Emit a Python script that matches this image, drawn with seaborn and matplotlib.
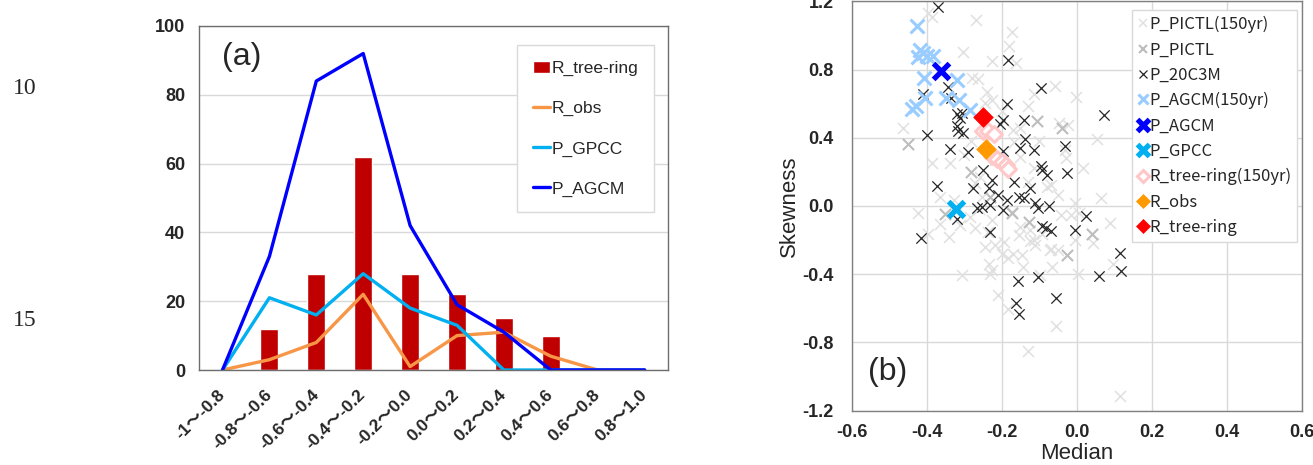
import matplotlib.pyplot as plt
import numpy as np
import pandas as pd
import seaborn as sns
from matplotlib.patches import Patch
from matplotlib.lines import Line2D
from matplotlib.ticker import FormatStrFormatter

# ---- panel (a): frequency of the median in each bin ----
BINS = ["-1～-0.8", "-0.8～-0.6", "-0.6～-0.4", "-0.4～-0.2", "-0.2～0.0",
        "0.0～0.2", "0.2～0.4", "0.4～0.6", "0.6～0.8", "0.8～1.0"]
R_TREE_RING = [0, 12, 28, 62, 28, 22, 15, 10, 0, 0]
R_OBS = [0, 3, 8, 22, 1, 10, 11, 4, 0, 0]
P_GPCC = [0, 21, 16, 28, 18, 13, 0, 0, 0, 0]
P_AGCM = [0, 33, 84, 92, 42, 19, 11, 0, 0, 0]

# ---- panel (b): median vs skewness ----
PICTL150_X = [-0.397, -0.385, -0.268, -0.173, -0.180, -0.302, -0.226, -0.161, -0.280, -0.262,
              -0.240, -0.226, -0.115, -0.058, -0.003, -0.129, -0.245, -0.462, -0.171, -0.152,
              -0.046, -0.023, 0.055, -0.282, -0.166, -0.387, -0.338, -0.300, -0.258, 0.016,
              -0.272, -0.253, -0.217, -0.152, -0.129, -0.115, -0.069, -0.029, -0.078, -0.051,
              0.066, -0.422, -0.364, -0.364, -0.311, -0.284, -0.271, -0.236, -0.226, -0.173,
              -0.152, -0.125, -0.115, -0.092, -0.069, -0.051, -0.005, 0.005, -0.005, 0.044,
              0.088, -0.042, -0.015, -0.245, -0.217, -0.198, -0.182, -0.235, -0.226, -0.171,
              -0.146, -0.143, -0.097, -0.307, -0.231, -0.209, -0.182, -0.055, -0.130, 0.116,
              0.097, 0.004, -0.397, -0.110, -0.195, -0.065, -0.124, -0.071, -0.155, -0.328,
              -0.030, -0.200, -0.100, -0.340, -0.260]
PICTL150_Y = [1.131, 1.110, 1.092, 1.020, 0.940, 0.904, 0.848, 0.838, 0.750, 0.742,
              0.670, 0.622, 0.657, 0.705, 0.640, 0.584, 0.602, 0.458, 0.446, 0.456,
              0.485, 0.475, 0.391, 0.382, 0.377, 0.250, 0.250, 0.299, 0.172, 0.220,
              0.132, 0.055, 0.269, 0.289, 0.142, 0.220, 0.122, 0.279, 0.113, 0.064,
              0.045, -0.043, 0.055, -0.108, -0.111, -0.063, -0.131, -0.151, -0.083, -0.033,
              -0.122, -0.142, -0.201, -0.162, -0.250, -0.260, -0.201, -0.044, 0.015, -0.218,
              -0.101, -0.053, -0.053, -0.240, -0.230, -0.279, -0.306, -0.338, -0.377, -0.279,
              -0.287, -0.358, -0.407, -0.406, -0.396, -0.523, -0.607, -0.705, -0.848, -1.117,
              -0.338, -0.400, -0.162, -0.228, -0.209, -0.355, -0.208, -0.257, -0.170, 0.034,
              0.330, 0.560, 0.380, -0.180, -0.020]

PICTL_X = [-0.449, -0.106, 0.042, -0.026, -0.282, -0.350, -0.230, -0.172, -0.128, -0.210, -0.040]
PICTL_Y = [0.362, 0.497, -0.163, -0.290, 0.201, -0.045, 0.050, -0.040, -0.096, 0.290, 0.460]

C20C3M_X = [-0.370, -0.184, -0.095, -0.342, -0.410, -0.336, -0.186, 0.073, -0.320, -0.307,
            -0.311, -0.196, -0.140, -0.204, -0.320, -0.316, -0.302, -0.400, -0.139, -0.338,
            -0.152, -0.114, -0.032, -0.289, -0.196, -0.096, -0.092, -0.080, -0.027, -0.249,
            -0.226, -0.166, -0.372, -0.276, -0.234, -0.125, -0.209, -0.186, -0.155, -0.141,
            -0.110, -0.103, -0.074, -0.267, -0.253, -0.232, -0.197, -0.320, 0.025, -0.092,
            -0.083, -0.068, -0.004, -0.232, -0.415, 0.115, 0.117, 0.060, -0.102, -0.157,
            -0.055, -0.162, -0.154]
C20C3M_Y = [1.165, 0.858, 0.694, 0.697, 0.655, 0.633, 0.601, 0.535, 0.542, 0.546,
            0.517, 0.503, 0.507, 0.483, 0.468, 0.438, 0.428, 0.419, 0.390, 0.334,
            0.338, 0.328, 0.353, 0.319, 0.322, 0.232, 0.211, 0.183, 0.191, 0.213,
            0.152, 0.142, 0.119, 0.108, 0.103, 0.103, 0.064, 0.035, 0.055, 0.045,
            0.016, -0.010, 0.002, -0.014, -0.004, 0.006, -0.021, -0.076, -0.057, -0.115,
            -0.131, -0.146, -0.140, -0.150, -0.186, -0.277, -0.384, -0.408, -0.418, -0.442,
            -0.540, -0.569, -0.632]

AGCM150_X = [-0.427, -0.418, -0.409, -0.400, -0.422, -0.382, -0.406, -0.318, -0.404, -0.348,
             -0.313, -0.438, -0.428, -0.284]
AGCM150_Y = [1.058, 0.913, 0.898, 0.882, 0.876, 0.882, 0.751, 0.737, 0.634, 0.634,
             0.624, 0.569, 0.588, 0.565]

TREE150_X = [-0.249, -0.236, -0.220, -0.227, -0.213, -0.200, -0.189, -0.182]
TREE150_Y = [0.439, 0.439, 0.425, 0.293, 0.277, 0.260, 0.240, 0.215]

AGCM_X, AGCM_Y = [-0.363], [0.790]
GPCC_X, GPCC_Y = [-0.322], [-0.016]
OBS_X, OBS_Y = [-0.242], [0.332]
TREE_X, TREE_Y = [-0.251], [0.523]

sns.set_theme(style="white")
plt.rcParams["font.family"] = ["Liberation Sans", "Noto Sans CJK JP"]

fig = plt.figure(figsize=(13.13, 4.65), dpi=100)
ax1 = fig.add_axes([0.1516, 0.2043, 0.3572, 0.7398])
ax2 = fig.add_axes([0.6487, 0.1170, 0.3427, 0.8800])

# ---------- (a) ----------
df = pd.DataFrame({"bin": BINS, "pos": np.arange(len(BINS)), "R_tree-ring": R_TREE_RING,
                   "R_obs": R_OBS, "P_GPCC": P_GPCC, "P_AGCM": P_AGCM})
line_colors = {"R_obs": "#f79646", "P_GPCC": "#00b0f0", "P_AGCM": "#0000ff"}

sns.barplot(data=df, x="bin", y="R_tree-ring", color="#c00000", saturation=1,
            width=0.38, ax=ax1)
for col, c in line_colors.items():
    sns.lineplot(data=df, x="pos", y=col, color=c, linewidth=2.4, ax=ax1)

ax1.set_xlim(-0.5, len(BINS) - 0.5)
ax1.set_ylim(0, 100)
ax1.set_yticks([0, 20, 40, 60, 80, 100])
ax1.set_xticks(df["pos"])
ax1.set_xticklabels(BINS, rotation=45, ha="right", va="center", rotation_mode="anchor",
                    fontweight="bold", fontsize=12.5)
for lbl in ax1.get_yticklabels():
    lbl.set_fontweight("bold")
ax1.tick_params(axis="y", length=0, labelsize=13, pad=10)
ax1.tick_params(axis="x", length=0, pad=16)
ax1.set_xlabel("")
ax1.set_ylabel("")
ax1.yaxis.grid(True, color="#d9d9d9", linewidth=1)
ax1.set_axisbelow(True)
for sp in ax1.spines.values():
    sp.set_color("#6e6e6e")
    sp.set_linewidth(1)
ax1.text(0.049, 0.91, "(a)", transform=ax1.transAxes, fontsize=23, va="center")

handles_a = [Patch(facecolor="#c00000", label="R_tree-ring")] + [
    Line2D([], [], color=c, linewidth=2.4, label=k) for k, c in line_colors.items()]
ax1.legend(handles=handles_a, loc="upper right", bbox_to_anchor=(0.970, 0.945),
           borderaxespad=0, fontsize=12.5, frameon=True, fancybox=False,
           edgecolor="#d9d9d9", framealpha=1, handlelength=1.0, handleheight=0.75,
           handletextpad=0.1, labelspacing=1.42, borderpad=0.9)

# ---------- (b) ----------
styles = [
    (PICTL150_X, PICTL150_Y, "P_PICTL(150yr)", "x", "#e0e0e0", "#e0e0e0", 62, 1.1),
    (PICTL_X, PICTL_Y, "P_PICTL", "x", "#bdbdbd", "#bdbdbd", 65, 1.5),
    (C20C3M_X, C20C3M_Y, "P_20C3M", "x", "#262626", "#262626", 55, 0.9),
    (AGCM150_X, AGCM150_Y, "P_AGCM(150yr)", "x", "#99ccff", "#99ccff", 100, 2.2),
    (TREE150_X, TREE150_Y, "R_tree-ring(150yr)", "D", "white", "#ffc7c7", 65, 2.2),
    (OBS_X, OBS_Y, "R_obs", "D", "#ff9900", "#ff9900", 100, 0.5),
    (TREE_X, TREE_Y, "R_tree-ring", "D", "#ff0000", "#ff0000", 100, 0.5),
    (AGCM_X, AGCM_Y, "P_AGCM", "x", "#0000ff", "#0000ff", 130, 3.8),
    (GPCC_X, GPCC_Y, "P_GPCC", "x", "#00b0f0", "#00b0f0", 130, 3.8),
]
for xs, ys, lab, mk, fc, ec, s, lw in styles:
    if mk == "x":
        sns.scatterplot(x=xs, y=ys, marker="x", color=fc, s=s, linewidth=lw, ax=ax2)
    else:
        sns.scatterplot(x=xs, y=ys, marker="D", color=fc, edgecolor=ec, s=s,
                        linewidth=lw, ax=ax2)

ax2.set_xlim(-0.6, 0.6)
ax2.set_ylim(-1.2, 1.2)
ax2.set_xticks([-0.6, -0.4, -0.2, 0.0, 0.2, 0.4, 0.6])
ax2.set_yticks([-1.2, -0.8, -0.4, 0.0, 0.4, 0.8, 1.2])
ax2.xaxis.set_major_formatter(FormatStrFormatter("%.1f"))
ax2.yaxis.set_major_formatter(FormatStrFormatter("%.1f"))
ax2.tick_params(axis="both", length=0, labelsize=13)
ax2.tick_params(axis="y", pad=13)
ax2.tick_params(axis="x", pad=10)
for lbl in ax2.get_xticklabels() + ax2.get_yticklabels():
    lbl.set_fontweight("bold")
ax2.grid(True, color="#d9d9d9", linewidth=1)
ax2.set_axisbelow(True)
for sp in ax2.spines.values():
    sp.set_color("#808080")
    sp.set_linewidth(1)
ax2.set_xlabel("Median", fontsize=16, labelpad=1)
ax2.set_ylabel("Skewness", fontsize=16, labelpad=2)
ax2.text(0.036, 0.094, "(b)", transform=ax2.transAxes, fontsize=23, va="center")

legend_order = ["P_PICTL(150yr)", "P_PICTL", "P_20C3M", "P_AGCM(150yr)", "P_AGCM",
                "P_GPCC", "R_tree-ring(150yr)", "R_obs", "R_tree-ring"]
style_by_label = {st[2]: st for st in styles}
handles_b = []
for lab in legend_order:
    _, _, _, mk, fc, ec, s, lw = style_by_label[lab]
    if mk == "x":
        handles_b.append(Line2D([], [], ls="", marker="x", color=fc, markersize=np.sqrt(s) * 0.75,
                                markeredgewidth=lw, label=lab))
    else:
        handles_b.append(Line2D([], [], ls="", marker="D", markerfacecolor=fc,
                                markeredgecolor=ec, markersize=np.sqrt(s) * 0.7,
                                markeredgewidth=lw, label=lab))
ax2.legend(handles=handles_b, loc="upper right", bbox_to_anchor=(0.99, 0.979),
           borderaxespad=0, prop={"family": "Noto Sans CJK JP", "size": 12},
           frameon=True, fancybox=False, edgecolor="#d9d9d9", framealpha=1,
           handlelength=0.6, handletextpad=0.1, labelspacing=0.5, borderpad=0.35)

# line numbers at left margin
fig.text(25 / 1313, 1 - 89 / 465, "10", family="Liberation Serif", fontsize=17,
         ha="center", va="center")
fig.text(25 / 1313, 1 - 320 / 465, "15", family="Liberation Serif", fontsize=17,
         ha="center", va="center")

fig.savefig("out.png", dpi=100)
